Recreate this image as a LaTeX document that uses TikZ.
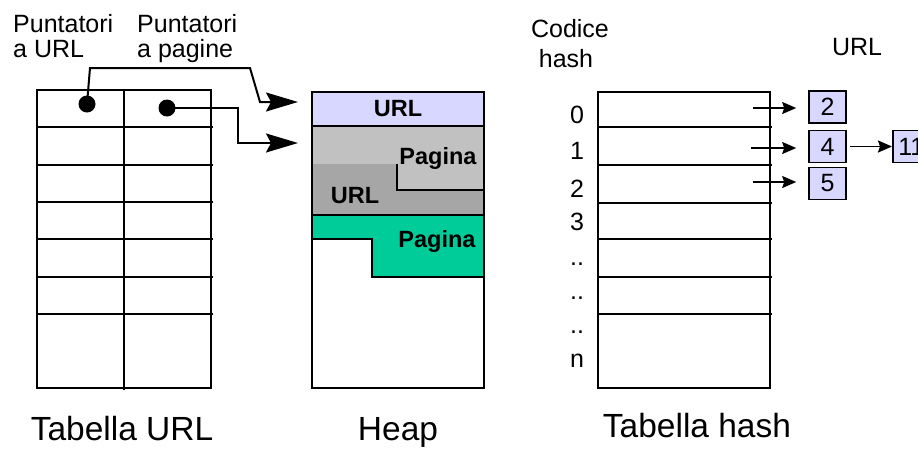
\documentclass[tikz,border=0pt]{standalone}
\usepackage{fontspec}
\setmainfont{Liberation Sans}
\usetikzlibrary{arrows.meta}
\definecolor{lav}{HTML}{D7D7FF}
\definecolor{lgray}{HTML}{C0C1C0}
\definecolor{dgray}{HTML}{A6A6A6}
\definecolor{tealc}{HTML}{00CC99}
\begin{document}
\begin{tikzpicture}[x=1pt,y=-1pt,
  grid/.style={line width=2pt},
  lbl/.style={font=\fontsize{25}{30}\selectfont, inner sep=0pt, anchor=base},
  big/.style={font=\fontsize{33.5}{40}\selectfont, inner sep=0pt, anchor=base},
  boldlbl/.style={font=\fontsize{23.5}{28}\selectfont\bfseries, inner sep=0pt},
  dot/.style={circle, fill=black, minimum size=17pt, inner sep=0pt},
  ptr/.style={line width=2pt, -{Stealth[length=32pt,width=19pt,inset=5pt]}},
  harrow/.style={line width=1.8pt, -{Stealth[length=14pt,width=12pt,inset=2pt]}},
  vbox/.style={draw, line width=1.6pt, fill=lav, minimum width=37pt, minimum height=32pt, inner sep=0pt, font=\fontsize{25}{30}\selectfont},
]
\clip (0,0) rectangle (918,448);
\fill[white] (0,0) rectangle (918,448);

% ---- Tabella URL ----
\draw[grid] (37,90) rectangle (211,388);
\draw[grid] (124,90) -- (124,390);
\foreach \y in {127,165,202,239,277,314} \draw[grid] (37,\y) -- (213,\y);

% ---- Heap ----
\fill[lav] (312,92) rectangle (484,126);
\fill[lgray] (312,126) -- (484,126) -- (484,190) -- (397,190) -- (397,164) -- (312,164) -- cycle;
\fill[dgray] (312,164) -- (397,164) -- (397,190) -- (484,190) -- (484,215) -- (312,215) -- cycle;
\fill[tealc] (312,215) -- (484,215) -- (484,277) -- (372,277) -- (372,239) -- (312,239) -- cycle;
\draw[grid] (312,126) -- (484,126);
\draw[grid] (397,164) -- (397,190) -- (484,190);
\draw[grid] (312,215) -- (484,215);
\draw[grid] (312,239) -- (372,239) -- (372,277) -- (484,277);
\draw[grid] (312,92) rectangle (484,388);
\node[boldlbl] (hurl1) at (398,109) {URL};
\node[boldlbl] (hpag1) at (438,158) {Pagina};
\node[boldlbl] (hurl2) at (355,196) {URL};
\node[boldlbl] (hpag2) at (437,241) {Pagina};

% ---- Tabella hash ----
\draw[grid] (598,92) rectangle (770,388);
\foreach \y in {127,165,203,239,277,314} \draw[grid] (598,\y) -- (772,\y);
\node[lbl] (i0) at (577,123) {0};
\node[lbl] (i1) at (577,159) {1};
\node[lbl] (i2) at (577,197) {2};
\node[lbl] (i3) at (577,230) {3};
\node[lbl] (i4) at (577,265) {..};
\node[lbl] (i5) at (577,299) {..};
\node[lbl] (i6) at (577,333) {..};
\node[lbl] (i7) at (577,367) {n};

\node[vbox] (b2) at (827.5,107) {2};
\node[vbox] (b4) at (827.5,146.5) {4};
\node[vbox] (b5) at (827.5,183.5) {5};
\node[vbox, anchor=west] (b11) at (892,146.5) {11};

\coordinate (h0) at (753,108);
\coordinate (h1) at (751,148);
\coordinate (h2) at (753,182);
\draw[harrow, shorten >=12pt] (h0) -- (h0 -| b2.west);
\draw[harrow, shorten >=12pt] (h1) -- (h1 -| b4.west);
\draw[harrow, shorten >=12pt] (h2) -- (h2 -| b5.west);
\draw[harrow, shorten <=3pt] (b4.east) -- (b11.west);

% ---- pointers ----
\node[dot] (d1) at (87,104) {};
\node[dot] (d2) at (167,108) {};
\coordinate (t1) at (298,102);
\coordinate (t2) at (298,143);
\draw[ptr] (d1.center) -- (90,68) -- (250,68) -- (260,102) -- (t1);
\draw[ptr] (d2.center) -- (238,108) -- (238,143) -- (t2);

% ---- labels ----
\node[lbl, anchor=base west] (p1a) at (13,32) {Puntatori};
\node[lbl, anchor=base west] (p1b) at (13,57) {a URL};
\node[lbl, anchor=base west] (p2a) at (137,32) {Puntatori};
\node[lbl, anchor=base west] (p2b) at (137,57) {a pagine};
\node[lbl] (ch1) at (570,37) {Codice};
\node[lbl] (ch2) at (566,67) {hash};
\node[lbl] (urlh) at (857,55) {URL};

\node[big] (tu) at (122,440) {Tabella URL};
\node[big] (th) at (398,440) {Heap};
\node[big] (tt) at (697,437) {Tabella hash};
\end{tikzpicture}
\end{document}
